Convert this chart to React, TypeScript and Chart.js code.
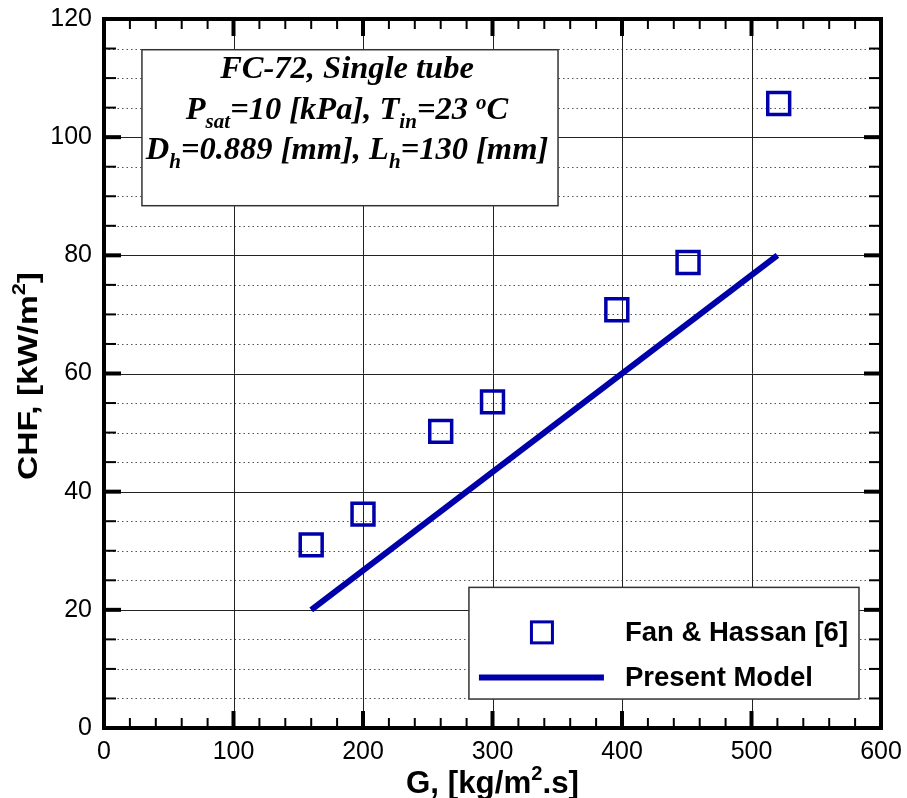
import React, { useEffect, useRef } from "react";
import { Chart, registerables } from "chart.js";

Chart.register(...registerables);

// ---- data ----
const fanHassanG = [160, 200, 260, 300, 396, 451, 521];
const fanHassanCHF = [31.0, 36.2, 50.2, 55.2, 70.8, 78.8, 105.7];
const modelG = [160, 520];
const modelCHF = [20, 80];

const xMin = 0, xMax = 600, xMajor = 100, xMinor = 20;
const yMin = 0, yMax = 120, yMajor = 20, yMinor = 5;

const legendLabels = ["Fan & Hassan [6]", "Present Model"];
const xTitle = ["G, [kg/m", "2", ".s]"];
const yTitle = ["CHF, [kW/m", "2", "]"];

type Seg = { t: string; sub?: boolean; sup?: boolean };
const infoLines: Seg[][] = [
  [{ t: "FC-72, Single tube" }],
  [{ t: "P" }, { t: "sat", sub: true }, { t: "=10 [kPa], T" }, { t: "in", sub: true }, { t: "=23 " }, { t: "o", sup: true }, { t: "C" }],
  [{ t: "D" }, { t: "h", sub: true }, { t: "=0.889 [mm], L" }, { t: "h", sub: true }, { t: "=130 [mm]" }],
];

const BLUE = "#0000aa";
const SANS = "'Liberation Sans', Arial, sans-serif";
const SERIF = "'Liberation Serif', 'Times New Roman', serif";

function drawRich(ctx: CanvasRenderingContext2D, segs: Seg[], cx: number, by: number) {
  const main = `italic bold 32.5px ${SERIF}`;
  const small = `italic bold 21px ${SERIF}`;
  let w = 0;
  for (const s of segs) {
    ctx.font = s.sub || s.sup ? small : main;
    w += ctx.measureText(s.t).width;
  }
  let x = cx - w / 2;
  ctx.textBaseline = "alphabetic";
  ctx.textAlign = "left";
  for (const s of segs) {
    ctx.font = s.sub || s.sup ? small : main;
    const dy = s.sub ? 9 : s.sup ? -10 : 0;
    ctx.fillText(s.t, x, by + dy);
    x += ctx.measureText(s.t).width;
  }
}

function drawTitle(ctx: CanvasRenderingContext2D, parts: string[], cx: number, by: number, size: number, targetW: number) {
  const main = `bold ${size}px ${SANS}`;
  const sup = `bold ${Math.round(size * 0.65)}px ${SANS}`;
  ctx.font = main;
  const w0 = ctx.measureText(parts[0]).width;
  const w2 = ctx.measureText(parts[2]).width;
  ctx.font = sup;
  const w1 = ctx.measureText(parts[1]).width;
  const total = w0 + w1 + w2;
  const sx = targetW / total;
  ctx.save();
  ctx.translate(cx, by);
  ctx.scale(sx, 1);
  let x = -total / 2;
  ctx.textAlign = "left";
  ctx.textBaseline = "alphabetic";
  ctx.font = main;
  ctx.fillText(parts[0], x, 0);
  x += w0;
  ctx.font = sup;
  ctx.fillText(parts[1], x, -size * 0.42);
  x += w1;
  ctx.font = main;
  ctx.fillText(parts[2], x, 0);
  ctx.restore();
}

const framePlugin = {
  id: "frame",
  beforeDraw(chart: any) {
    const ctx = chart.ctx;
    ctx.save();
    ctx.fillStyle = "#fff";
    ctx.fillRect(0, 0, chart.width, chart.height);
    ctx.restore();
  },
  beforeDatasetsDraw(chart: any) {
    const { ctx, chartArea: a, scales } = chart;
    const xs = scales.x, ys = scales.y;
    ctx.save();
    // minor dotted horizontal lines
    ctx.strokeStyle = "#555";
    ctx.lineWidth = 1;
    ctx.setLineDash([1.5, 3]);
    for (let v = yMin + yMinor; v < yMax; v += yMinor) {
      if (v % yMajor === 0) continue;
      const y = Math.round(ys.getPixelForValue(v)) + 0.5;
      ctx.beginPath();
      ctx.moveTo(a.left, y);
      ctx.lineTo(a.right, y);
      ctx.stroke();
    }
    ctx.setLineDash([]);
    // major grid lines
    ctx.strokeStyle = "#222";
    for (let v = yMin + yMajor; v < yMax; v += yMajor) {
      const y = Math.round(ys.getPixelForValue(v)) + 0.5;
      ctx.beginPath();
      ctx.moveTo(a.left, y);
      ctx.lineTo(a.right, y);
      ctx.stroke();
    }
    for (let v = xMin + xMajor; v < xMax; v += xMajor) {
      const x = Math.round(xs.getPixelForValue(v)) + 0.5;
      ctx.beginPath();
      ctx.moveTo(x, a.top);
      ctx.lineTo(x, a.bottom);
      ctx.stroke();
    }
    ctx.restore();
  },
  afterDatasetsDraw(chart: any) {
    const { ctx, chartArea: a, scales } = chart;
    const xs = scales.x, ys = scales.y;
    ctx.save();

    // info text box
    const bx0 = xs.getPixelForValue(29.3), bx1 = xs.getPixelForValue(350.6);
    const by0 = ys.getPixelForValue(114.8), by1 = ys.getPixelForValue(88.4);
    ctx.fillStyle = "#fff";
    ctx.fillRect(bx0, by0, bx1 - bx0, by1 - by0);
    ctx.strokeStyle = "#333";
    ctx.lineWidth = 1.5;
    ctx.strokeRect(bx0, by0, bx1 - bx0, by1 - by0);
    ctx.fillStyle = "#000";
    const cx = (bx0 + bx1) / 2 - 3;
    drawRich(ctx, infoLines[0], cx, by0 + 28);
    drawRich(ctx, infoLines[1], cx, by0 + 69);
    drawRich(ctx, infoLines[2], cx, by0 + 109);

    // legend box
    const lx0 = xs.getPixelForValue(281.8), lx1 = xs.getPixelForValue(583);
    const ly0 = ys.getPixelForValue(23.8), ly1 = ys.getPixelForValue(4.9);
    ctx.fillStyle = "#fff";
    ctx.fillRect(lx0, ly0, lx1 - lx0, ly1 - ly0);
    ctx.strokeStyle = "#333";
    ctx.lineWidth = 1.5;
    ctx.strokeRect(lx0, ly0, lx1 - lx0, ly1 - ly0);
    // marker
    ctx.strokeStyle = BLUE;
    ctx.lineWidth = 3;
    ctx.strokeRect(lx0 + 62.5, ly0 + 34.5, 21, 21);
    // line
    ctx.lineWidth = 6;
    ctx.beginPath();
    ctx.moveTo(lx0 + 10, ly0 + 90);
    ctx.lineTo(lx0 + 135, ly0 + 90);
    ctx.stroke();
    ctx.fillStyle = "#000";
    ctx.font = `bold 27.5px ${SANS}`;
    ctx.textAlign = "left";
    ctx.textBaseline = "alphabetic";
    ctx.fillText(legendLabels[0], lx0 + 156, ly0 + 54);
    ctx.fillText(legendLabels[1], lx0 + 156, ly0 + 99);

    // frame border
    ctx.strokeStyle = "#000";
    ctx.lineWidth = 4;
    ctx.strokeRect(a.left, a.top, a.right - a.left, a.bottom - a.top);

    // ticks (inward)
    const tick = (x0: number, y0: number, x1: number, y1: number, w: number) => {
      ctx.lineWidth = w;
      ctx.beginPath();
      ctx.moveTo(x0, y0);
      ctx.lineTo(x1, y1);
      ctx.stroke();
    };
    for (let v = xMin + xMinor; v < xMax; v += xMinor) {
      const x = xs.getPixelForValue(v);
      const major = v % xMajor === 0;
      const len = major ? 17 : 10;
      const w = major ? 4 : 2;
      tick(x, a.bottom, x, a.bottom - len, w);
      tick(x, a.top, x, a.top + len, w);
    }
    for (let v = yMin + yMinor; v < yMax; v += yMinor) {
      const y = ys.getPixelForValue(v);
      const major = v % yMajor === 0;
      const len = major ? 17 : 12;
      const w = major ? 4 : 2;
      tick(a.left, y, a.left + len, y, w);
      tick(a.right, y, a.right - len, y, w);
    }

    // axis titles
    ctx.fillStyle = "#000";
    drawTitle(ctx, xTitle, (a.left + a.right) / 2, 793, 31, 173);
    ctx.save();
    ctx.translate(37, 376);
    ctx.rotate(-Math.PI / 2);
    drawTitle(ctx, yTitle, 0, 0, 28, 208);
    ctx.restore();

    ctx.restore();
  },
};

export default function App() {
  const ref = useRef<HTMLCanvasElement>(null);
  useEffect(() => {
    document.body.style.margin = "0";
    document.body.style.overflow = "hidden";
    const canvas = ref.current;
    if (!canvas) return;
    const chart = new Chart(canvas, {
      type: "scatter",
      data: {
        datasets: [
          {
            label: legendLabels[0],
            data: fanHassanG.map((g, i) => ({ x: g, y: fanHassanCHF[i] })),
            pointStyle: "rect",
            pointRadius: 15.5,
            pointHoverRadius: 15.5,
            borderColor: BLUE,
            backgroundColor: "rgba(0,0,0,0)",
            pointBorderWidth: 3.5,
            showLine: false,
          },
          {
            label: legendLabels[1],
            type: "line",
            data: modelG.map((g, i) => ({ x: g, y: modelCHF[i] })),
            borderColor: BLUE,
            borderWidth: 6,
            pointRadius: 0,
            showLine: true,
            fill: false,
          },
        ],
      } as any,
      options: {
        animation: false,
        responsive: true,
        maintainAspectRatio: false,
        events: [],
        layout: { padding: { top: 17, right: 26, left: 0, bottom: 0 } },
        plugins: { legend: { display: false }, tooltip: { enabled: false } },
        scales: {
          x: {
            type: "linear",
            min: xMin,
            max: xMax,
            afterFit: (s: any) => {
              s.height = 70;
              s.paddingLeft = 0;
              s.paddingRight = 0;
            },
            ticks: { stepSize: xMajor, color: "#000", padding: 9, font: { size: 25, family: SANS } },
            grid: { display: false, drawTicks: false },
            border: { display: false },
          },
          y: {
            type: "linear",
            min: yMin,
            max: yMax,
            afterFit: (s: any) => {
              s.width = 104;
              s.paddingTop = 0;
              s.paddingBottom = 0;
            },
            ticks: { stepSize: yMajor, color: "#000", padding: 12, font: { size: 25, family: SANS } },
            grid: { display: false, drawTicks: false },
            border: { display: false },
          },
        },
      } as any,
      plugins: [framePlugin],
    });
    return () => chart.destroy();
  }, []);
  return (
    <div style={{ width: 907, height: 798, position: "relative" }}>
      <canvas ref={ref} />
    </div>
  );
}
